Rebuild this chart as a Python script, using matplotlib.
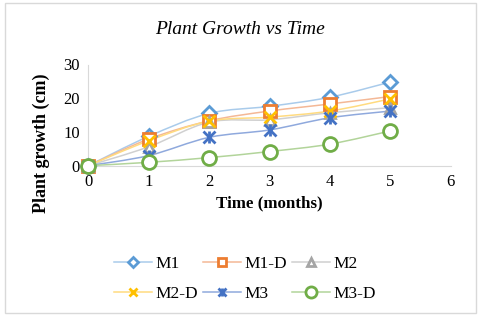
import matplotlib
matplotlib.use("Agg")
import matplotlib.pyplot as plt
from matplotlib.path import Path
from matplotlib.patches import PathPatch, Rectangle
from matplotlib.lines import Line2D
from matplotlib.legend_handler import HandlerTuple
import numpy as np

months = [0, 1, 2, 3, 4, 5]
series_names = ["M1", "M1-D", "M2", "M2-D", "M3", "M3-D"]
m1 = [0, 8.7, 15.5, 17.6, 20.3, 24.8]
m1_d = [0, 7.9, 13.3, 16.2, 18.3, 20.5]
m2 = [0, 5.6, 12.9, 13.6, 15.7, 17.2]
m2_d = [0, 7.4, 13.2, 14.4, 16.2, 19.8]
m3 = [0, 3.0, 8.4, 10.6, 14.2, 16.2]
m3_d = [0, 1.0, 2.4, 4.2, 6.4, 10.3]
values = [m1, m1_d, m2, m2_d, m3, m3_d]

marker_colors = ["#5B9BD5", "#ED7D31", "#A5A5A5", "#FFC000", "#4472C4", "#70AD47"]
line_colors = ["#A9CBEB", "#F4B896", "#D0D0D0", "#FFDB80", "#8FA9DD", "#B2D49A"]
markers = ["D", "s", "^", "x", "star", "o"]
msizes = [7, 8, 7, 8, 8, 10]

plt.rcParams['font.family'] = ['Liberation Serif', 'DejaVu Serif']

fig = plt.figure(figsize=(4.8, 3.19), dpi=100)
fig.patches.append(Rectangle((5/480, 1-313/319), 471/480, 310/319, transform=fig.transFigure,
                             fill=False, edgecolor="#D9D9D9", linewidth=1))

ax = fig.add_axes([88.3/480, 1-165.7/319, (450.7-88.3)/480, (165.7-64.5)/319])
ax.set_xlim(0, 6)
ax.set_ylim(0, 30)


def smooth_path(x, y):
    pts = np.column_stack([x, y]).astype(float)
    n = len(pts)
    verts = [pts[0]]
    codes = [Path.MOVETO]
    for i in range(n - 1):
        p0 = pts[i - 1] if i > 0 else pts[i]
        p1 = pts[i]
        p2 = pts[i + 1]
        p3 = pts[i + 2] if i + 2 < n else pts[i + 1]
        c1 = p1 + (p2 - p0) / 6.0
        c2 = p2 - (p3 - p1) / 6.0
        verts += [c1, c2, p2]
        codes += [Path.CURVE4] * 3
    return Path(verts, codes)


handles = []
for name, vals, mc, lc, mk, ms in zip(series_names, values, marker_colors, line_colors, markers, msizes):
    patch = PathPatch(smooth_path(months, vals), fill=False, edgecolor=lc, linewidth=1.1, zorder=2)
    ax.add_patch(patch)
    lms = ms * 0.8
    if mk == "star":
        ax.plot(months, vals, linestyle="none", marker="x", markersize=ms, markeredgewidth=2,
                color=mc, clip_on=False, zorder=3)
        ax.plot(months, vals, linestyle="none", marker="|", markersize=ms, markeredgewidth=2,
                color=mc, clip_on=False, zorder=3)
        h = (Line2D([], [], color=lc, lw=1.1, marker="x", markersize=lms, markeredgewidth=2, markeredgecolor=mc),
             Line2D([], [], linestyle="none", marker="|", markersize=lms, markeredgewidth=2, markeredgecolor=mc))
    elif mk == "x":
        ax.plot(months, vals, linestyle="none", marker="x", markersize=ms, markeredgewidth=2,
                color=mc, clip_on=False, zorder=3)
        h = Line2D([], [], color=lc, lw=1.1, marker="x", markersize=lms, markeredgewidth=2, markeredgecolor=mc)
    else:
        ax.plot(months, vals, linestyle="none", marker=mk, markersize=ms, markeredgewidth=2,
                markeredgecolor=mc, markerfacecolor="white", clip_on=False, zorder=3)
        h = Line2D([], [], color=lc, lw=1.1, marker=mk, markersize=lms, markeredgewidth=2,
                   markeredgecolor=mc, markerfacecolor="white")
    handles.append(h)

for s in ["top", "right"]:
    ax.spines[s].set_visible(False)
ax.spines["left"].set_color("#D9D9D9")
ax.spines["bottom"].set_color("#D9D9D9")
ax.tick_params(length=0, labelsize=12, pad=6)
ax.set_xticks([0, 1, 2, 3, 4, 5, 6])
ax.set_yticks([0, 10, 20, 30])

ax.set_xlabel("Time (months)", fontsize=12.2, fontweight="bold", labelpad=4)
fig.text(41.7/480, 1-143/319, "Plant growth (cm)", rotation=90, fontsize=13, fontweight="bold",
         ha="center", va="center")
fig.text(240/480, 1-30/319, "Plant Growth vs Time", fontsize=14, style="italic", ha="center", va="center")

order = [0, 3, 1, 4, 2, 5]
leg = fig.legend([handles[i] for i in order], [series_names[i] for i in order], ncol=3,
                 loc="center", bbox_to_anchor=(245/480, 1-279/319), frameon=False, fontsize=12.5,
                 handlelength=2.2, columnspacing=0.25, handletextpad=0.2, labelspacing=0.75,
                 handler_map={tuple: HandlerTuple(ndivide=1)})

fig.savefig("out.png", dpi=100)
